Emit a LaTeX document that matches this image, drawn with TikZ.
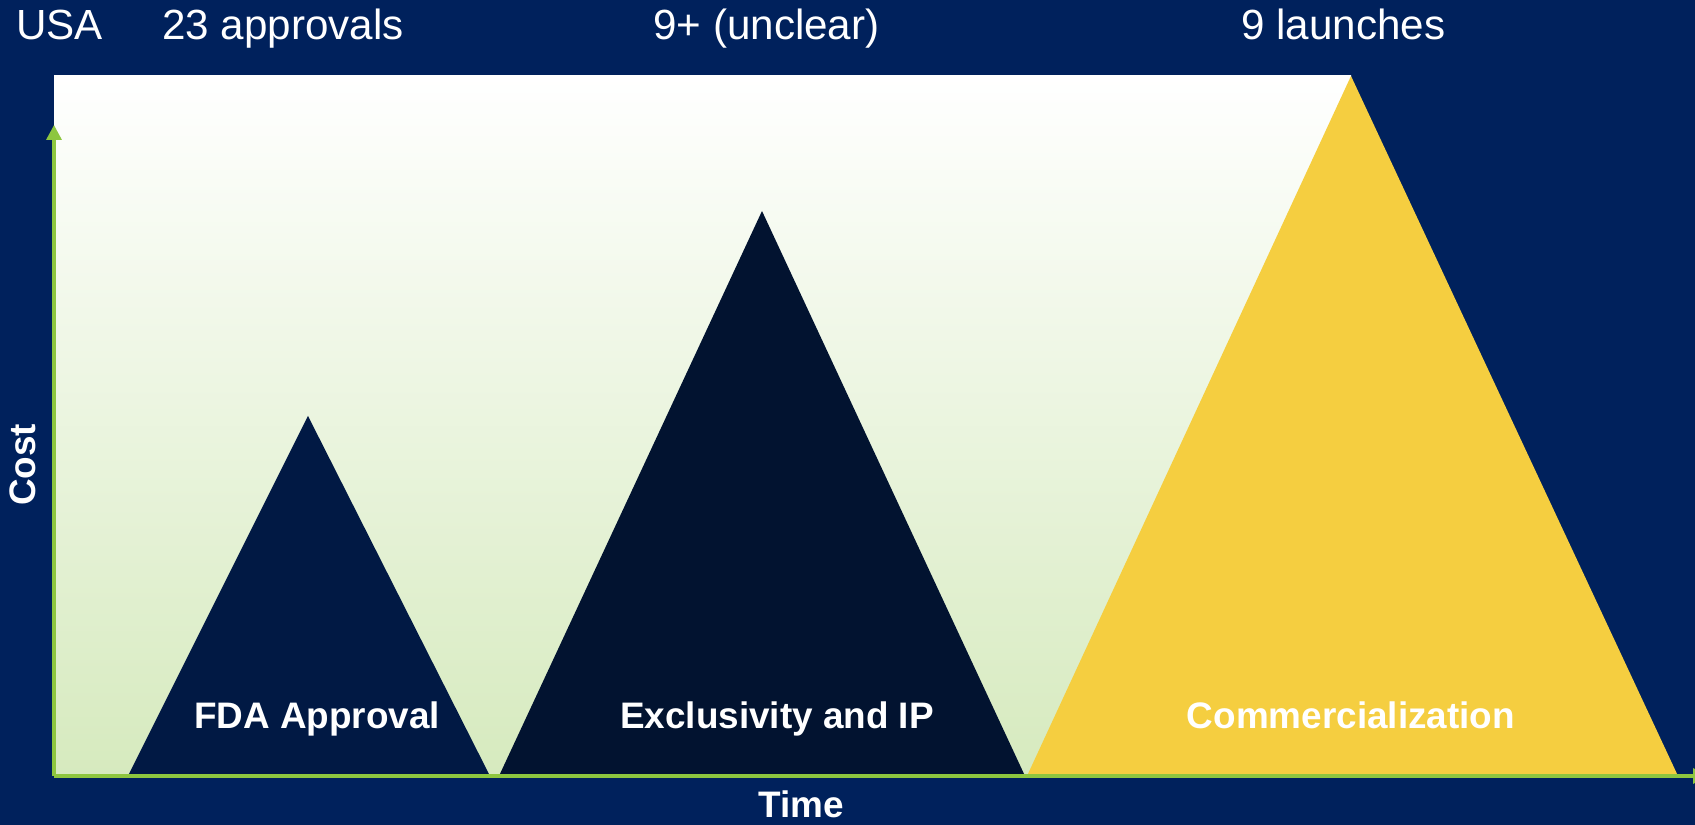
\documentclass[tikz,border=0pt]{standalone}
\usepackage{fontspec}
\setmainfont{Liberation Sans}
\usetikzlibrary{arrows.meta}
\definecolor{navy}{RGB}{0,33,92}
\definecolor{fdanavy}{RGB}{1,25,68}
\definecolor{ipnavy}{RGB}{2,19,48}
\definecolor{gold}{RGB}{245,206,64}
\definecolor{axisgreen}{RGB}{141,198,63}
\definecolor{palegreen}{RGB}{214,234,190}
\tikzset{
    toplabel/.style={text=white, inner sep=0pt, font=\fontsize{24}{28}\selectfont},
    stagelabel/.style={text=white, inner sep=0pt, font=\bfseries\fontsize{21}{25}\selectfont},
    axis/.style={draw=axisgreen, line width=1.9pt, -{Triangle[length=8.5pt,width=8.5pt]}}
}
\begin{document}
\begin{tikzpicture}[x=0.02cm,y=0.02cm]
		\useasboundingbox (0,0) rectangle (1695,825);
		\clip (0,0) rectangle (1695,825);
		\fill[navy] (0,0) rectangle (1695,825);

		% cost area
		\shade[top color=white, bottom color=palegreen] (54,49) rectangle (1351,749);

		% stages
		\coordinate (A) at (128,49);
		\coordinate (B) at (490,49);
		\coordinate (C) at (308,409);
		\fill[fdanavy] (A) -- (B) -- (C) -- cycle;
	    \node[stagelabel, anchor=base] (fda) at (317,96) {FDA Approval};

		\coordinate (A) at (499,49);
		\coordinate (B) at (1025,49);
		\coordinate (C) at (762,614);
		\fill[ipnavy] (A) -- (B) -- (C) -- cycle;
	    \node[stagelabel, anchor=base] (ip) at (777,96) {Exclusivity and IP};

		\coordinate (A) at (1027,49);
		\coordinate (B) at (1678,49);
		\coordinate (C) at (1351,749);
		\fill[gold] (A) -- (B) -- (C) -- cycle;
	    \node[stagelabel, anchor=base] (comm) at (1351,96) {Commercialization};

		% axes
		\coordinate (origin) at (54,49);
		\coordinate (costtip) at (54,700);
		\coordinate (timetip) at (1708,49);
		\draw[axis] (origin) -- (costtip);
		\draw[axis] (origin) -- (timetip);
	    \node[stagelabel, anchor=base, rotate=90] (cost) at (36,360) {Cost};
	    \node[stagelabel, anchor=base] (time) at (801,7) {Time};

		% counts
	    \node[toplabel, anchor=base west] (usa) at (16,785) {USA};
	    \node[toplabel, anchor=base west] (approvals) at (162,785) {23 approvals};
	    \node[toplabel, anchor=base west] (unclear) at (653,785) {9+ (unclear)};
	    \node[toplabel, anchor=base west] (launches) at (1241,785) {9 launches};
\end{tikzpicture}
\end{document}
